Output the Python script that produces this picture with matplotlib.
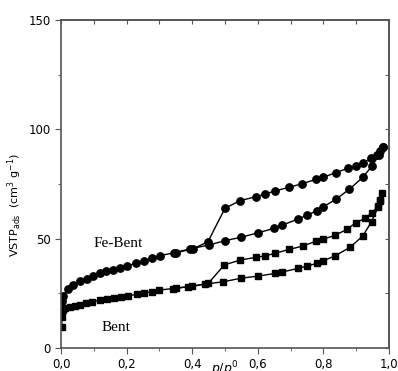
import numpy as np
import matplotlib.pyplot as plt
from matplotlib.ticker import MultipleLocator, FuncFormatter

# Fe-Bent isotherm (circles)
fe_ads_x = [0.002, 0.007, 0.021, 0.037, 0.058, 0.078, 0.098, 0.119, 0.137, 0.158,
            0.180, 0.201, 0.229, 0.253, 0.277, 0.302, 0.345, 0.393, 0.451, 0.500,
            0.548, 0.601, 0.649, 0.673, 0.723, 0.750, 0.780, 0.800, 0.838, 0.879,
            0.920, 0.948, 0.970, 0.983]
fe_ads_y = [21.5, 24.0, 27.0, 29.0, 30.6, 31.7, 33.0, 34.2, 35.2, 35.7,
            36.7, 37.6, 38.7, 39.9, 41.0, 42.2, 43.6, 45.3, 47.1, 49.1,
            50.6, 52.7, 54.7, 56.1, 59.0, 60.7, 62.8, 64.6, 68.0, 72.6,
            78.0, 83.2, 88.2, 92.0]
fe_des_x = [0.983, 0.973, 0.963, 0.944, 0.921, 0.899, 0.875, 0.838, 0.798, 0.777,
            0.735, 0.695, 0.652, 0.622, 0.595, 0.546, 0.500, 0.448, 0.402, 0.350]
fe_des_y = [92.0, 90.1, 88.2, 86.7, 84.7, 83.2, 82.2, 80.2, 78.0, 77.1,
            75.1, 73.5, 71.8, 70.4, 69.2, 67.4, 63.9, 48.6, 45.3, 43.6]

# Bent isotherm (squares)
b_ads_x = [0.002, 0.003, 0.005, 0.012, 0.027, 0.043, 0.058, 0.076, 0.094, 0.119,
           0.139, 0.162, 0.183, 0.203, 0.231, 0.253, 0.277, 0.300, 0.342, 0.388,
           0.439, 0.495, 0.548, 0.602, 0.652, 0.673, 0.723, 0.751, 0.780, 0.800,
           0.835, 0.881, 0.920, 0.947, 0.967, 0.973]
b_ads_y = [9.8, 14.3, 17.4, 18.1, 18.9, 19.2, 19.8, 20.6, 21.2, 21.9,
           22.6, 23.0, 23.5, 23.9, 24.5, 25.0, 25.8, 26.5, 27.2, 28.0,
           29.2, 30.3, 31.9, 32.9, 34.1, 34.7, 36.4, 37.5, 38.7, 39.9,
           42.1, 46.0, 51.2, 57.8, 64.6, 67.7]
b_des_x = [0.980, 0.973, 0.967, 0.949, 0.927, 0.899, 0.871, 0.835, 0.798, 0.777,
           0.737, 0.696, 0.652, 0.622, 0.595, 0.546, 0.498, 0.449, 0.400, 0.350]
b_des_y = [71.0, 67.4, 64.9, 61.9, 59.3, 57.3, 54.2, 51.5, 49.7, 48.8,
           46.6, 45.1, 43.3, 42.1, 41.5, 40.2, 38.0, 29.6, 28.2, 27.4]

fig = plt.figure(figsize=(3.98, 3.71), dpi=100)
ax = fig.add_axes([0.1533, 0.062, 0.824, 0.884])

ax.plot(fe_ads_x, fe_ads_y, '-o', color='black', lw=1, ms=5.3)
ax.plot(fe_des_x, fe_des_y, '-o', color='black', lw=1, ms=5.3)
ax.plot(b_ads_x, b_ads_y, '-s', color='black', lw=1, ms=4.4)
ax.plot(b_des_x, b_des_y, '-s', color='black', lw=1, ms=4.4)

ax.text(0.174, 48, 'Fe-Bent', family='Liberation Serif', fontsize=11,
        ha='center', va='center')
ax.text(0.168, 9.6, 'Bent', family='Liberation Serif', fontsize=11,
        ha='center', va='center')

ax.set_xlim(0, 1.0)
ax.set_ylim(0, 150)
ax.xaxis.set_major_locator(MultipleLocator(0.2))
ax.xaxis.set_minor_locator(MultipleLocator(0.1))
ax.yaxis.set_major_locator(MultipleLocator(50))
ax.yaxis.set_minor_locator(MultipleLocator(25))
ax.xaxis.set_major_formatter(FuncFormatter(lambda v, p: f"{v:.1f}".replace('.', ',')))
ax.tick_params(which='major', direction='out', length=4, labelsize=8.5, color='#555555')
ax.tick_params(which='minor', direction='out', length=2.5, color='#555555')

top = ax.secondary_xaxis('top')
top.xaxis.set_major_locator(MultipleLocator(0.1))
top.tick_params(direction='in', length=3, labeltop=False, color='#555555')
right = ax.secondary_yaxis('right')
right.yaxis.set_major_locator(MultipleLocator(25))
right.tick_params(direction='in', length=3, labelright=False, color='#555555')

for sp in list(ax.spines.values()) + [top.spines['top'], right.spines['right']]:
    sp.set_color('#555555')
    sp.set_linewidth(1.2)

ax.set_ylabel('VSTP$_{\\mathregular{ads}}$  (cm$^{3}$ g$^{-1}$)', fontsize=8)
ax.yaxis.set_label_coords(-0.113, 0.436)

fig.text(0.566, -0.006, '$p/p^{0}$', fontsize=9, ha='center', va='baseline')

fig.savefig('out.png', dpi=100)
